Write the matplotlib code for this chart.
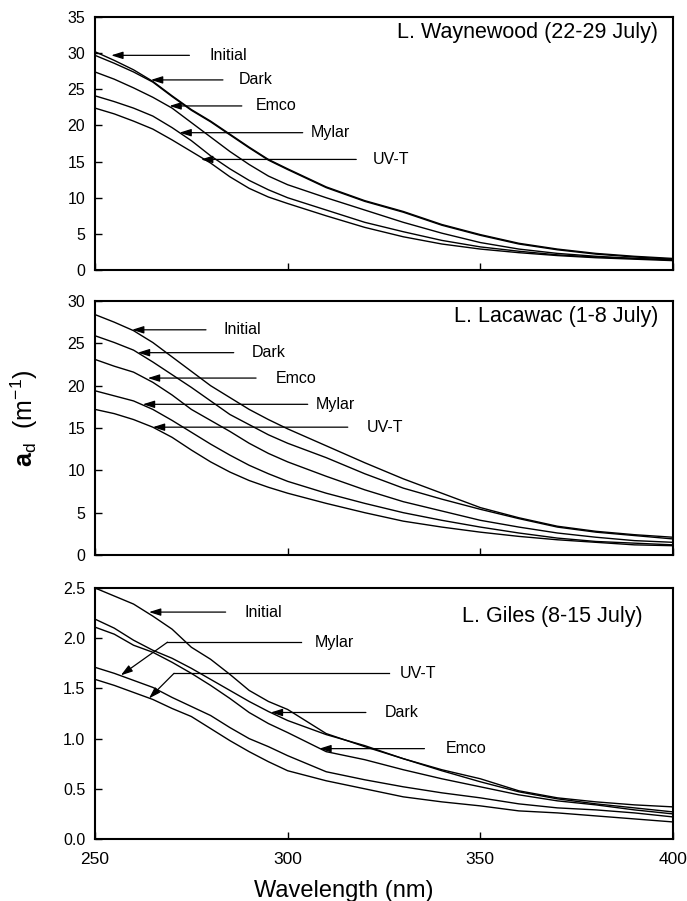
import matplotlib.pyplot as plt
import numpy as np
from matplotlib.ticker import FormatStrFormatter

plt.rcParams['font.family'] = ['Liberation Sans', 'DejaVu Sans']
plt.rcParams['mathtext.fontset'] = 'custom'
plt.rcParams['mathtext.rm'] = 'Liberation Sans'
plt.rcParams['mathtext.bf'] = 'Liberation Sans:bold'

# wavelengths (nm)
wavelength = [250, 255, 260, 265, 270, 275, 280, 285, 290, 295, 300,
              310, 320, 330, 340, 350, 360, 370, 380, 390, 400]

# L. Waynewood (22-29 July), a_d (m-1)
wn_initial = [30.2, 29.0, 27.7, 26.1, 24.1, 22.2, 20.6, 18.8, 17.0, 15.3, 14.0,
              11.5, 9.6, 8.1, 6.3, 4.9, 3.7, 2.9, 2.3, 1.9, 1.6]
wn_dark = [29.7, 28.6, 27.4, 26.0, 24.0, 22.1, 20.5, 18.7, 16.9, 15.2, 13.9,
           11.4, 9.5, 8.0, 6.2, 4.8, 3.6, 2.8, 2.2, 1.8, 1.5]
wn_emco = [27.4, 26.4, 25.2, 23.9, 22.4, 20.4, 18.4, 16.4, 14.6, 13.0, 11.8,
           10.0, 8.3, 6.6, 5.1, 3.8, 2.9, 2.3, 1.9, 1.6, 1.4]
wn_mylar = [24.1, 23.3, 22.4, 21.3, 19.7, 17.9, 15.8, 14.0, 12.4, 11.1, 10.0,
            8.3, 6.6, 5.3, 4.1, 3.2, 2.6, 2.1, 1.8, 1.6, 1.4]
wn_uvt = [22.4, 21.6, 20.6, 19.5, 18.0, 16.4, 14.8, 12.9, 11.3, 10.1, 9.2,
          7.5, 5.9, 4.6, 3.6, 2.9, 2.4, 2.0, 1.7, 1.5, 1.3]

# L. Lacawac (1-8 July)
lc_initial = [28.4, 27.5, 26.5, 25.1, 23.4, 21.7, 20.0, 18.6, 17.2, 16.0, 14.9,
              12.9, 10.9, 9.0, 7.3, 5.6, 4.4, 3.4, 2.8, 2.4, 2.1]
lc_dark = [25.9, 25.1, 24.2, 22.8, 21.3, 19.8, 18.2, 16.6, 15.4, 14.2, 13.2,
           11.5, 9.6, 7.9, 6.6, 5.4, 4.3, 3.3, 2.7, 2.3, 1.9]
lc_emco = [23.1, 22.3, 21.6, 20.4, 18.9, 17.2, 15.9, 14.6, 13.2, 12.0, 11.0,
           9.3, 7.7, 6.3, 5.2, 4.1, 3.3, 2.6, 2.1, 1.7, 1.5]
lc_mylar = [19.4, 18.8, 18.2, 17.2, 15.9, 14.5, 13.1, 11.8, 10.6, 9.6, 8.7,
            7.3, 6.1, 5.0, 4.1, 3.3, 2.6, 2.0, 1.6, 1.4, 1.2]
lc_uvt = [17.2, 16.7, 16.0, 15.1, 13.9, 12.4, 11.0, 9.8, 8.8, 8.0, 7.3,
          6.1, 5.0, 4.0, 3.3, 2.7, 2.2, 1.8, 1.5, 1.2, 1.1]

# L. Giles (8-15 July)
gl_initial = [2.50, 2.42, 2.34, 2.22, 2.09, 1.91, 1.79, 1.64, 1.48, 1.37, 1.29,
              1.05, 0.92, 0.80, 0.69, 0.60, 0.48, 0.41, 0.37, 0.34, 0.32]
gl_dark = [2.19, 2.10, 1.98, 1.88, 1.80, 1.70, 1.59, 1.48, 1.37, 1.27, 1.18,
           1.04, 0.93, 0.80, 0.68, 0.57, 0.47, 0.40, 0.35, 0.31, 0.27]
gl_emco = [2.11, 2.04, 1.93, 1.86, 1.76, 1.65, 1.53, 1.40, 1.26, 1.15, 1.06,
           0.87, 0.79, 0.69, 0.60, 0.52, 0.44, 0.38, 0.34, 0.29, 0.25]
gl_mylar = [1.71, 1.65, 1.58, 1.51, 1.41, 1.32, 1.23, 1.11, 1.00, 0.92, 0.83,
            0.67, 0.59, 0.52, 0.46, 0.41, 0.35, 0.31, 0.29, 0.26, 0.22]
gl_uvt = [1.59, 1.53, 1.46, 1.39, 1.30, 1.22, 1.10, 0.98, 0.87, 0.77, 0.68,
          0.58, 0.50, 0.42, 0.37, 0.33, 0.28, 0.26, 0.23, 0.20, 0.17]

titles = ["L. Waynewood (22-29 July)", "L. Lacawac (1-8 July)", "L. Giles (8-15 July)"]
series = [
    [wn_initial, wn_dark, wn_emco, wn_mylar, wn_uvt],
    [lc_initial, lc_dark, lc_emco, lc_mylar, lc_uvt],
    [gl_initial, gl_dark, gl_emco, gl_mylar, gl_uvt],
]

# label arrows: (text, text_x, tail_x, corner_x or None, head_x, head_y, y)
labels = [
    [("Initial", 279.7, 274.5, None, 254.2, 29.7, 29.7),
     ("Dark", 287.2, 283.2, None, 264.5, 26.3, 26.3),
     ("Emco", 291.8, 288.1, None, 269.3, 22.7, 22.7),
     ("Mylar", 306.1, 303.9, None, 271.9, 19.0, 19.0),
     ("UV-T", 322.1, 317.8, None, 277.5, 15.3, 15.3)],
    [("Initial", 283.4, 278.8, None, 259.6, 26.6, 26.6),
     ("Dark", 290.7, 286.0, None, 261.1, 23.9, 23.9),
     ("Emco", 297.0, 291.8, None, 263.7, 20.9, 20.9),
     ("Mylar", 307.4, 305.2, None, 262.4, 17.8, 17.8),
     ("UV-T", 320.4, 315.6, None, 265.0, 15.1, 15.1)],
    [("Initial", 288.7, 283.9, None, 264.0, 2.26, 2.26),
     ("Mylar", 306.9, 303.4, 268.8, 256.7, 1.63, 1.96),
     ("UV-T", 329.0, 326.2, 270.5, 264.0, 1.40, 1.65),
     ("Dark", 325.3, 320.3, None, 295.6, 1.26, 1.26),
     ("Emco", 340.9, 335.5, None, 308.2, 0.90, 0.90)],
]

ylims = [(0, 35), (0, 30), (0, 2.5)]
ysteps = [5, 5, 0.5]
yfmts = ['%d', '%d', '%.1f']
title_pos = [(0.974, 0.937), (0.974, 0.938), (0.948, 0.886)]
axes_rect = [
    [0.1383, 0.7003, 0.8413, 0.2808],
    [0.1383, 0.3840, 0.8413, 0.2819],
    [0.1383, 0.0688, 0.8413, 0.2786],
]

fig = plt.figure(figsize=(6.87, 9.01), dpi=100)

arrow_props = dict(arrowstyle='-|>,head_length=0.7,head_width=0.22',
                   color='black', lw=0.9, shrinkA=0, shrinkB=0,
                   mutation_scale=10)

for i in range(3):
    ax = fig.add_axes(axes_rect[i])
    for s in series[i]:
        ax.plot(wavelength, s, color='black', lw=1.0)

    for name, tx, tail, corner, hx, hy, y in labels[i]:
        if corner is None:
            ax.annotate('', xy=(hx, hy), xytext=(tail, y), arrowprops=arrow_props)
        else:
            ax.plot([tail, corner], [y, y], color='black', lw=0.9)
            ax.annotate('', xy=(hx, hy), xytext=(corner, y), arrowprops=arrow_props)
        ax.text(tx, y, name, fontsize=11.5, va='center', ha='left')

    ax.text(title_pos[i][0], title_pos[i][1], titles[i], transform=ax.transAxes,
            fontsize=15.5, ha='right', va='center')

    ax.set_xlim(250, 400)
    ax.set_ylim(*ylims[i])
    ax.set_yticks(np.arange(ylims[i][0], ylims[i][1] + ysteps[i] / 2, ysteps[i]))
    ax.yaxis.set_major_formatter(FormatStrFormatter(yfmts[i]))
    ax.set_xticks([250, 300, 350, 400])
    ax.tick_params(direction='in', length=5, width=1.0, labelsize=11.5, pad=7)
    ax.tick_params(axis='x', labelsize=12.5, pad=9)
    if i < 2:
        ax.tick_params(axis='x', labelbottom=False)
    for sp in ax.spines.values():
        sp.set_linewidth(1.5)

fig.text(0.5, 0.004, "Wavelength (nm)", fontsize=17, ha='center', va='baseline')
fig.text(0.036, 0.536, r'$\mathbf{a}_{\mathrm{d}}$  (m$^{\mathrm{-1}}$)',
         fontsize=18, rotation=90, ha='center', va='center')

fig.savefig('out.png', dpi=100)
